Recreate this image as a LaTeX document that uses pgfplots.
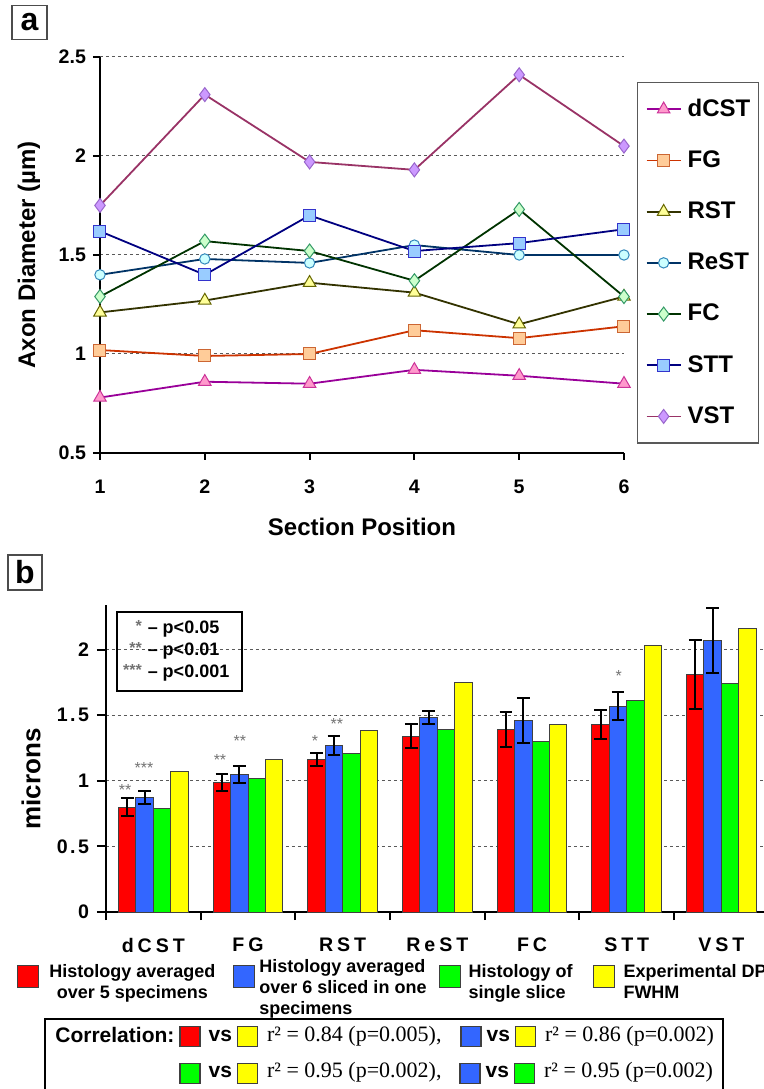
\documentclass[border=0pt]{standalone}
\usepackage{fontspec}
\setmainfont{Liberation Sans}
\newfontfamily\serif{Liberation Serif}
\newfontfamily\spaced[LetterSpace=12]{Liberation Sans}
\newfontfamily\spacedx[LetterSpace=20]{Liberation Sans}
\usepackage{pgfplots}
\usepackage{pgfplotstable}
\pgfplotsset{compat=1.18}

% line / marker colours, panel a
\definecolor{dcstL}{HTML}{990099}\definecolor{dcstF}{HTML}{FF99CC}\definecolor{dcstE}{HTML}{CC3399}
\definecolor{fgL}{HTML}{CC3300}\definecolor{fgF}{HTML}{FFCC99}\definecolor{fgE}{HTML}{CC6633}
\definecolor{rstL}{HTML}{333300}\definecolor{rstF}{HTML}{FFFF99}\definecolor{rstE}{HTML}{666600}
\definecolor{restL}{HTML}{003366}\definecolor{restF}{HTML}{CCFFFF}\definecolor{restE}{HTML}{3388BB}
\definecolor{fcL}{HTML}{003300}\definecolor{fcF}{HTML}{CCFFCC}\definecolor{fcE}{HTML}{339966}
\definecolor{sttL}{HTML}{000080}\definecolor{sttF}{HTML}{99CCFF}\definecolor{sttE}{HTML}{3333CC}
\definecolor{vstL}{HTML}{993366}\definecolor{vstF}{HTML}{CC99FF}\definecolor{vstE}{HTML}{9966CC}
% bar colours, panel b
\definecolor{bred}{HTML}{FF0000}
\definecolor{bblue}{HTML}{3366FF}
\definecolor{bgreen}{HTML}{00FF00}
\definecolor{byel}{HTML}{FFFF00}

\pgfplotstableread{
x  red   rede  blue  bluee green yellow
0  0.80  0.07  0.87  0.05  0.79  1.07
1  0.985 0.065 1.05  0.065 1.02  1.16
2  1.16  0.05  1.27  0.075 1.21  1.38
3  1.34  0.09  1.48  0.05  1.39  1.75
4  1.39  0.135 1.46  0.17  1.30  1.43
5  1.43  0.11  1.57  0.105 1.61  2.03
6  1.81  0.26  2.07  0.25  1.74  2.16
}\bardata

\newcommand\sq[1]{\raisebox{-2.5pt}{\setlength\fboxsep{0pt}\setlength\fboxrule{0.6pt}\fcolorbox{black!75}{#1}{\rule{0pt}{9.4pt}\rule{9.4pt}{0pt}}}}
\newcommand\st[1]{\raisebox{1.2pt}{\fontsize{8}{8}\selectfont\color{black!55}#1}}
% legend text: alignment, lines, space before, space after
\newcommand\lt[4]{{\fontsize{9}{10.6}\selectfont\rule{#3}{0pt}\begin{tabular}{@{}#1@{}}#2\end{tabular}\rule{#4}{0pt}}}

\begin{document}
\begin{tikzpicture}
\useasboundingbox (0,0) rectangle (382pt,544.5pt);

% ---------------- panel a ----------------
\begin{axis}[
  at={(50pt,318pt)}, anchor=south west,
  scale only axis, width=262pt, height=198pt,
  xmin=1, xmax=6, ymin=0.5, ymax=2.5, clip=false,
  xtick={1,2,3,4,5,6}, ytick={0.5,1,1.5,2,2.5},
  axis x line*=bottom, axis y line*=left,
  axis line style={line width=1.1pt, black},
  tick align=outside, major tick length=3.5pt,
  tick style={line width=1pt, black},
  ymajorgrids, grid style={dash pattern=on 1.6pt off 1.4pt, black!65, line width=0.5pt},
  /pgf/number format/assume math mode=true,
  tick label style={font=\bfseries\fontsize{9.8}{11}\selectfont},
  xticklabel style={yshift=-6.5pt},
  xlabel={Section Position}, ylabel={Axon Diameter (µm)},
  label style={font=\bfseries\fontsize{12}{14}\selectfont},
  xlabel style={at={(axis description cs:0.5,-0.187)}, anchor=center},
  ylabel style={at={(axis description cs:-0.1355,0.5)}, anchor=center},
  legend style={at={(axis description cs:1.0248,0.937)}, anchor=north west,
    draw=black!65, line width=0.7pt, fill=white,
    font=\bfseries\fontsize{12}{14}\selectfont,
    inner xsep=4pt, inner ysep=0.5pt, row sep=0pt, column sep=3pt,
    nodes={inner sep=0pt, minimum height=25.6pt}},
  legend cell align=left,
  every axis plot/.append style={line width=0.9pt},
]
\addplot[color=dcstL, mark=triangle*, mark size=3.6pt, mark options={fill=dcstF, draw=dcstE, line width=0.5pt}]
  coordinates {(1,0.78) (2,0.86) (3,0.85) (4,0.92) (5,0.89) (6,0.85)};
\addplot[color=fgL, mark=square*, mark size=3pt, mark options={fill=fgF, draw=fgE, line width=0.5pt}]
  coordinates {(1,1.02) (2,0.99) (3,1.00) (4,1.12) (5,1.08) (6,1.14)};
\addplot[color=rstL, mark=triangle*, mark size=3.6pt, mark options={fill=rstF, draw=rstE, line width=0.5pt}]
  coordinates {(1,1.21) (2,1.27) (3,1.36) (4,1.31) (5,1.15) (6,1.29)};
\addplot[color=restL, mark=*, mark size=2.6pt, mark options={fill=restF, draw=restE, line width=0.5pt}]
  coordinates {(1,1.40) (2,1.48) (3,1.46) (4,1.55) (5,1.50) (6,1.50)};
\addplot[color=fcL, mark=diamond*, mark size=3.5pt, mark options={fill=fcF, draw=fcE, line width=0.5pt}]
  coordinates {(1,1.29) (2,1.57) (3,1.52) (4,1.37) (5,1.73) (6,1.29)};
\addplot[color=sttL, mark=square*, mark size=3pt, mark options={fill=sttF, draw=sttE, line width=0.5pt}]
  coordinates {(1,1.62) (2,1.40) (3,1.70) (4,1.52) (5,1.56) (6,1.63)};
\addplot[color=vstL, mark=diamond*, mark size=3.5pt, mark options={fill=vstF, draw=vstE, line width=0.5pt}]
  coordinates {(1,1.75) (2,2.31) (3,1.97) (4,1.93) (5,2.41) (6,2.05)};
\legend{dCST,FG,RST,ReST,FC,STT,VST}
\end{axis}

% ---------------- panel b ----------------
\begin{axis}[
  at={(53pt,88.5pt)}, anchor=south west,
  scale only axis, width=329pt, height=153.5pt,
  xmin=-0.5, xmax=6.45, ymin=0, ymax=2.34,
  ybar=0pt, bar width=8.7pt,
  every axis plot/.append style={
    legend image code/.code={\fill[#1, draw=black!75, line width=0.5pt] (0pt,-5.5pt) rectangle (10.5pt,5.5pt);}},
  xtick={0,1,2,3,4,5,6}, xticklabels={dCST,FG,RST,ReST,FC,STT,VST},
  minor xtick={-0.5,0.5,1.5,2.5,3.5,4.5,5.5},
  ytick={0,0.5,1,1.5,2},
  axis x line*=bottom, axis y line*=left,
  axis line style={line width=1pt, black},
  tick align=outside, major tick length=4.5pt, minor tick length=4pt,
  tick style={line width=1pt, black},
  major x tick style={draw=none},
  ymajorgrids, grid style={dash pattern=on 1.6pt off 1.4pt, black!65, line width=0.5pt},
  /pgf/number format/assume math mode=true,
  yticklabel style={font=\spaced\bfseries\fontsize{9.8}{11}\selectfont, xshift=-0.5pt},
  xticklabel style={font=\spacedx\bfseries\fontsize{9.8}{11}\selectfont, yshift=-5pt},
  ylabel={microns},
  ylabel style={font=\bfseries\fontsize{13}{15}\selectfont, at={(axis description cs:-0.114,0.433)}, anchor=center},
  legend columns=4,
  legend style={at={(axis description cs:-0.13526,-0.2117)}, anchor=west,
    draw=none, fill=none, inner sep=0pt, column sep=0pt,
    font=\bfseries\fontsize{9}{10.6}\selectfont,
    cells={anchor=west}, nodes={inner sep=0pt}},
  mybar/.style={draw=black!75, line width=0.5pt},
  errs/.style={error bars/.cd, y dir=both, y explicit,
    error bar style={line width=1pt, black},
    error mark options={black, line width=1pt, mark size=3.2pt, rotate=90}},
]
\addplot[mybar, fill=bred, errs] table[x=x, y=red, y error=rede] {\bardata};
\addplot[mybar, fill=bblue, errs] table[x=x, y=blue, y error=bluee] {\bardata};
\addplot[mybar, fill=bgreen] table[x=x, y=green] {\bardata};
\addplot[mybar, fill=byel] table[x=x, y=yellow] {\bardata};
\addlegendentry{\lt{c}{Histology averaged\\over 5 specimens}{5pt}{9pt}}
\addlegendentry{\lt{l}{Histology averaged\\over 6 sliced in one\\specimens}{2pt}{6pt}}
\addlegendentry{\lt{l}{Histology of\\single slice}{4pt}{10pt}}
\addlegendentry{\lt{l}{Experimental DP\\FWHM}{4.5pt}{0pt}}

% significance stars
\begin{scope}[every node/.style={font=\fontsize{8}{8}\selectfont, text=black!55, inner sep=0pt}]
\node at (axis cs:-0.299,0.93) {**};
\node at (axis cs:-0.099,1.10) {***};
\node at (axis cs:0.704,1.16) {**};
\node at (axis cs:0.915,1.30) {**};
\node at (axis cs:1.707,1.30) {*};
\node at (axis cs:1.939,1.43) {**};
\node at (axis cs:4.917,1.80) {*};
\end{scope}

\node[draw, line width=1pt, inner sep=0pt, minimum height=39.5pt,
      font=\bfseries\fontsize{9}{11}\selectfont]
  at (axis description cs:0.112,0.849)
  {\begin{tabular}{@{\hspace{3pt}}r@{\hspace{3pt}}l@{\hspace{6.5pt}}}
   \st{*} & – p<0.05\\ \st{**} & – p<0.01\\ \st{***} & – p<0.001
   \end{tabular}};
\end{axis}

% panel letters
\node[draw=black!70, line width=0.7pt, minimum width=17.5pt, minimum height=17pt, inner sep=0pt,
      font=\bfseries\fontsize{16}{16}\selectfont] at (14.75pt,533.25pt) {a};
\node[draw=black!70, line width=0.7pt, minimum width=17pt, minimum height=17.5pt, inner sep=0pt,
      font=\bfseries\fontsize{16}{16}\selectfont] at (12.5pt,258.25pt) {b};

% correlation box
\draw[line width=1pt] (22.5pt,-5pt) rectangle (361.5pt,35pt);
\begin{scope}[every node/.style={anchor=west, inner sep=0pt, font=\bfseries\fontsize{10.5}{12}\selectfont}]
\node at (27.5pt,27pt) {Correlation:};
\node at (89.5pt,26.25pt) {\sq{bred}\hspace{4pt}vs\hspace{2.5pt}\sq{byel}\hspace{4.5pt}{\serif\mdseries\fontsize{11}{12}\selectfont r² = 0.84 (p=0.005),}};
\node at (230pt,26.25pt) {\sq{bblue}\hspace{2.5pt}vs\hspace{2.5pt}\sq{byel}\hspace{4.5pt}{\serif\mdseries\fontsize{11}{12}\selectfont r² = 0.86 (p=0.002)}};
\node at (89.5pt,8pt) {\sq{bgreen}\hspace{4pt}vs\hspace{2.5pt}\sq{byel}\hspace{4.5pt}{\serif\mdseries\fontsize{11}{12}\selectfont r² = 0.95 (p=0.002),}};
\node at (229.5pt,8pt) {\sq{bblue}\hspace{2.5pt}vs\hspace{2.5pt}\sq{bgreen}\hspace{4.5pt}{\serif\mdseries\fontsize{11}{12}\selectfont r² = 0.95 (p=0.002)}};
\end{scope}
\end{tikzpicture}
\end{document}
